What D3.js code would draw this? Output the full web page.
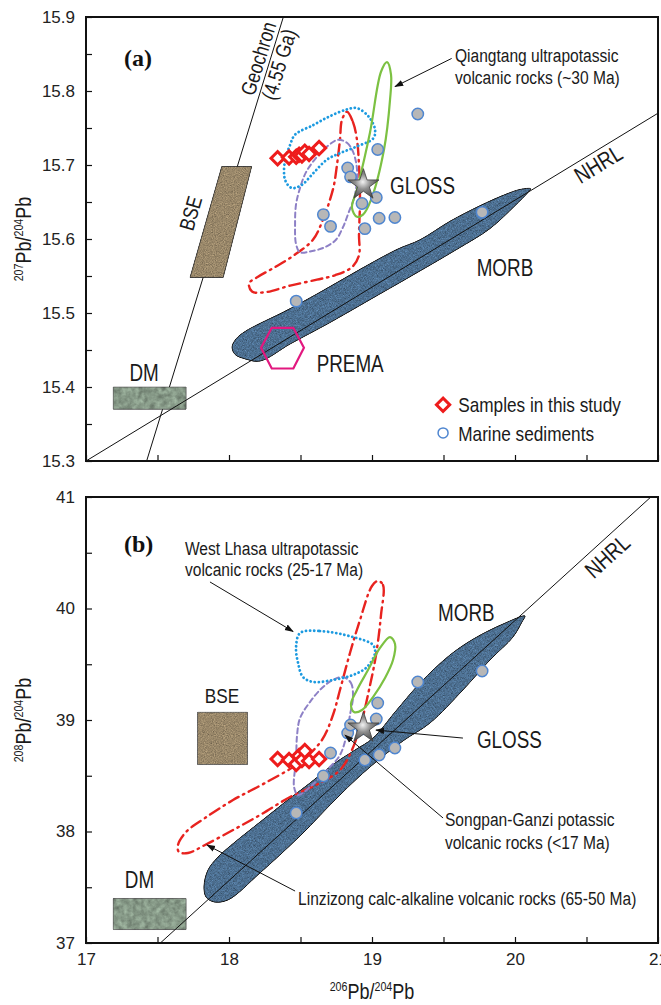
<!DOCTYPE html>
<html>
<head>
<meta charset="utf-8">
<script src="https://cdn.jsdelivr.net/npm/d3@7"></script>
<style>
  body { margin: 0; background: #fff; }
  svg { display: block; }
  .tick text { font-family: 'Liberation Sans', Arial, sans-serif; font-size: 17px; fill: #222; }
  .tick line { stroke: #111; stroke-width: 1.2; }
  .lbl { font-family: 'Liberation Sans', Arial, sans-serif; fill: #1a1a1a; }
</style>
</head>
<body>
<svg id="chart" width="661" height="1005"></svg>
<script>

// ---- axes ----
var x206Domain = [17, 21];
var x206Ticks = [17, 17.5, 18, 18.5, 19, 19.5, 20, 20.5, 21];
var x206Labels = [17, 18, 19, 20, 21];
var y207Domain = [15.3, 15.9];
var y207Ticks = [15.3, 15.35, 15.4, 15.45, 15.5, 15.55, 15.6, 15.65, 15.7, 15.75, 15.8, 15.85, 15.9];
var y207Labels = [15.3, 15.4, 15.5, 15.6, 15.7, 15.8, 15.9];
var y208Domain = [37, 41];
var y208Ticks = [37, 37.5, 38, 38.5, 39, 39.5, 40, 40.5, 41];
var y208Labels = [37, 38, 39, 40, 41];

// ---- points ----
var sample206 = [18.34, 18.42, 18.47, 18.49, 18.51, 18.53, 18.56, 18.63];
var sample207 = [15.709, 15.710, 15.711, 15.714, 15.713, 15.718, 15.715, 15.723];
var sample208 = [38.650, 38.641, 38.605, 38.677, 38.641, 38.722, 38.632, 38.650];

var marine206 = [19.32, 19.04, 18.83, 18.85, 19.03, 18.93, 19.05, 19.16, 18.95, 18.66, 18.71, 18.47, 19.77];
var marine207 = [15.769, 15.721, 15.696, 15.684, 15.656, 15.648, 15.628, 15.629, 15.614, 15.633, 15.617, 15.516, 15.636];
var marine208 = [39.341, 39.152, 38.883, 38.955, 39.009, 38.92, 38.686, 38.749, 38.641, 38.498, 38.704, 38.166, 39.439];

var gloss206 = [18.94];
var gloss207 = [15.673];
var gloss208 = [38.928];

// ---- reference lines ----
var geochronA = [[17.424, 15.3], [18.38, 15.9]];
var nhrlA = [[17, 15.30], [21, 15.77]];
var nhrlB = [[17.52, 37], [20.95, 41]];

// ---- fields, panel (a) 207/204 ----
var morbA = [[20.11,15.668],[20.035,15.667],[19.93,15.66],[19.755,15.645],[19.545,15.624],[19.336,15.599],
  [19.175,15.586],[18.916,15.559],[18.636,15.528],[18.378,15.501],[18.217,15.486],[18.112,15.475],
  [18.049,15.465],[18.021,15.454],[18.042,15.444],[18.112,15.438],[18.217,15.435],[18.427,15.458],
  [18.706,15.487],[18.986,15.518],[19.266,15.549],[19.594,15.586],[19.825,15.614],[20.0,15.645],[20.091,15.663]];
var qiangtangA = [[19.105,15.839],[19.133,15.822],[19.126,15.788],[19.084,15.721],[18.993,15.653],[18.937,15.633],
  [18.895,15.630],[18.860,15.642],[18.895,15.667],[18.986,15.744],[19.063,15.826]];
var westLhasaA = [[18.462,15.741],[18.590,15.754],[18.706,15.766],[18.823,15.775],[18.893,15.777],[18.974,15.766],
  [19.021,15.748],[19.009,15.736],[18.893,15.725],[18.776,15.716],[18.683,15.707],[18.590,15.689],
  [18.508,15.673],[18.438,15.669],[18.392,15.680],[18.392,15.707],[18.427,15.727]];
var songpanA = [[18.762,15.734],[18.825,15.730],[18.867,15.718],[18.895,15.694],[18.881,15.660],[18.839,15.637],
  [18.797,15.616],[18.748,15.599],[18.671,15.589],[18.566,15.583],[18.497,15.582],[18.469,15.593],
  [18.462,15.620],[18.469,15.647],[18.497,15.669],[18.538,15.690],[18.615,15.711],[18.692,15.726]];
var linzizongA = [[18.825,15.772],[18.867,15.758],[18.895,15.734],[18.909,15.700],[18.916,15.653],[18.909,15.606],
  [18.909,15.578],[18.860,15.562],[18.741,15.551],[18.615,15.545],[18.427,15.537],[18.252,15.528],
  [18.161,15.529],[18.140,15.540],[18.203,15.549],[18.322,15.562],[18.462,15.579],[18.587,15.599],
  [18.657,15.626],[18.706,15.653],[18.734,15.673],[18.755,15.700],[18.776,15.734],[18.790,15.761]];
var premaA = [[18.299,15.480],[18.450,15.480],[18.524,15.453],[18.450,15.425],[18.299,15.425],[18.224,15.453]];
var bseA = [[17.949,15.698],[18.159,15.698],[17.960,15.548],[17.727,15.548]];
var dmA = [[17.19,15.40],[17.70,15.40],[17.70,15.37],[17.19,15.37]];

// ---- fields, panel (b) 208/204 ----
var morbB = [[20.070,39.933],[19.916,39.861],[19.720,39.735],[19.545,39.583],[19.336,39.332],[19.161,39.072],
  [19.007,38.838],[18.881,38.731],[18.741,38.614],[18.566,38.435],[18.392,38.264],[18.217,38.085],
  [18.042,37.906],[17.923,37.771],[17.853,37.655],[17.825,37.511],[17.839,37.412],[17.895,37.368],
  [17.993,37.386],[18.217,37.628],[18.497,37.960],[18.776,38.327],[18.986,38.578],[19.217,38.812],
  [19.406,38.973],[19.636,39.269],[19.825,39.538],[19.986,39.744],[20.049,39.879]];
var qiangtangB = [[19.126,39.744],[19.161,39.682],[19.147,39.538],[19.091,39.377],[19.007,39.206],[18.930,39.090],
  [18.874,39.072],[18.853,39.143],[18.895,39.269],[18.972,39.448],[19.056,39.646]];
var westLhasaB = [[18.497,39.780],[18.636,39.798],[18.867,39.744],[19.007,39.673],[19.021,39.601],[18.965,39.475],
  [18.867,39.404],[18.727,39.359],[18.587,39.341],[18.517,39.386],[18.483,39.511],[18.469,39.655]];
var songpanB = [[18.797,39.386],[18.853,39.332],[18.867,39.206],[18.846,39.045],[18.825,38.883],[18.776,38.686],
  [18.685,38.551],[18.566,38.399],[18.483,38.327],[18.455,38.399],[18.469,38.641],[18.476,38.865],
  [18.497,39.018],[18.566,39.161],[18.650,39.287],[18.727,39.359]];
var linzizongB = [[19.042,40.247],[19.077,40.211],[19.063,39.942],[19.028,39.583],[18.979,39.269],[18.930,39.000],
  [18.860,38.731],[18.776,38.551],[18.636,38.435],[18.427,38.309],[18.217,38.148],[18.028,38.013],
  [17.832,37.879],[17.713,37.807],[17.650,37.816],[17.643,37.879],[17.699,37.995],[17.832,38.121],
  [18.028,38.282],[18.252,38.435],[18.497,38.623],[18.650,38.821],[18.727,39.045],[18.776,39.269],
  [18.846,39.601],[18.916,39.897],[19.000,40.202]];
var bseB = [[17.78,39.07],[18.13,39.07],[18.13,38.60],[17.78,38.60]];
var dmB = [[17.19,37.40],[17.70,37.40],[17.70,37.12],[17.19,37.12]];

// ---- annotation arrows ----
var arrowsA = [[[19.557,15.844],[19.161,15.806]]];
var arrowsB = [[[17.867,40.238],[18.448,39.794]], [[19.636,38.838],[19.028,38.910]],
  [[19.497,38.121],[18.811,38.865]], [[18.462,37.466],[17.846,37.879]]];

var NARROW = 0.82;   // the figure's text is a condensed face

var svg = d3.select('#chart');
var defs = svg.append('defs');

var x = d3.scaleLinear().domain(x206Domain).range([86, 658]);
var yA = d3.scaleLinear().domain(y207Domain).range([461, 17]);
var yB = d3.scaleLinear().domain(y208Domain).range([943, 497]);

// grainy textures for the filled fields
function grain(id, freq, oct, seed, k1, k2) {
  var f = defs.append('filter').attr('id', id).attr('color-interpolation-filters', 'sRGB');
  f.append('feTurbulence').attr('type', 'fractalNoise').attr('baseFrequency', freq)
    .attr('numOctaves', oct).attr('seed', seed).attr('result', 't');
  f.append('feColorMatrix').attr('in', 't').attr('type', 'matrix')
    .attr('values', '0.33 0.33 0.33 0 0  0.33 0.33 0.33 0 0  0.33 0.33 0.33 0 0  0 0 0 0 1')
    .attr('result', 'g');
  f.append('feComposite').attr('in', 'SourceGraphic').attr('in2', 'g').attr('operator', 'arithmetic')
    .attr('k1', k1).attr('k2', k2).attr('k3', 0).attr('k4', 0).attr('result', 'c');
  f.append('feComposite').attr('in', 'c').attr('in2', 'SourceAlpha').attr('operator', 'in');
}
grain('grainMorb', 1.6, 1, 4, 1.5, 0.25);
grain('grainBse', 0.9, 2, 7, 1.2, 0.4);
grain('grainDm', 0.18, 3, 11, 1.0, 0.5);

var sg = defs.append('radialGradient').attr('id', 'starGrad').attr('cx', '48%').attr('cy', '45%').attr('r', '55%');
sg.append('stop').attr('offset', '0%').attr('stop-color', '#f2f2f2');
sg.append('stop').attr('offset', '45%').attr('stop-color', '#8e8e8e');
sg.append('stop').attr('offset', '100%').attr('stop-color', '#4e4e4e');

defs.append('marker').attr('id', 'arrow').attr('viewBox', '0 0 10 10')
  .attr('refX', 9).attr('refY', 5).attr('markerWidth', 9).attr('markerHeight', 9)
  .attr('markerUnits', 'userSpaceOnUse').attr('orient', 'auto')
  .append('path').attr('d', 'M0,1.5 L10,5 L0,8.5 z').attr('fill', '#111');

function isIn(list, v) {
  return list.some(function (l) { return Math.abs(l - v) < 1e-6; });
}

function drawPanel(y, yTicks, yLabels, yFmt, showX, clipId) {
  var g = svg.append('g');
  var x0 = x.range()[0], x1 = x.range()[1], yt = y.range()[1], yb = y.range()[0];

  defs.append('clipPath').attr('id', clipId)
    .append('rect').attr('x', x0).attr('y', yt).attr('width', x1 - x0).attr('height', yb - yt);

  var yAxis = d3.axisLeft(y).tickValues(yTicks).tickSize(-6).tickPadding(11)
    .tickFormat(function (d) { return isIn(yLabels, d) ? d3.format(yFmt)(d) : ''; });
  g.append('g').attr('transform', 'translate(' + x0 + ',0)').call(yAxis)
    .call(function (s) { s.select('.domain').remove(); });

  var xAxis = d3.axisBottom(x).tickValues(x206Ticks).tickSize(-6).tickPadding(10)
    .tickFormat(function (d) { return showX && isIn(x206Labels, d) ? d3.format('d')(d) : ''; });
  g.append('g').attr('transform', 'translate(0,' + yb + ')').call(xAxis)
    .call(function (s) { s.select('.domain').remove(); });

  var plot = g.append('g').attr('clip-path', 'url(#' + clipId + ')');
  g.append('rect').attr('x', x0).attr('y', yt).attr('width', x1 - x0).attr('height', yb - yt)
    .attr('fill', 'none').attr('stroke', '#111').attr('stroke-width', 2);
  return { g: g, plot: plot };
}

function makeLine(y, curve) {
  var l = d3.line().x(function (d) { return x(d[0]); }).y(function (d) { return y(d[1]); });
  return curve ? l.curve(curve) : l;
}

function field(plot, y, pts, stroke, dash, width) {
  plot.append('path').datum(pts)
    .attr('d', makeLine(y, d3.curveCatmullRomClosed.alpha(0.5)))
    .attr('fill', 'none').attr('stroke', stroke).attr('stroke-width', width)
    .attr('stroke-dasharray', dash).attr('stroke-linecap', 'round');
}

function label(g, txt, px, py, size, anchor, rot) {
  return g.append('text').attr('class', 'lbl').attr('font-size', size)
    .attr('text-anchor', anchor || 'start')
    .attr('transform', 'translate(' + px + ',' + py + ') rotate(' + (rot || 0) + ') scale(' + NARROW + ',1)')
    .text(txt);
}

function angle(y, seg) {
  return Math.atan2(y(seg[1][1]) - y(seg[0][1]), x(seg[1][0]) - x(seg[0][0])) * 180 / Math.PI;
}

function axisTitle(t, sup1, sup2) {
  t.append('tspan').attr('font-size', 13).attr('dy', -8).text(sup1);
  t.append('tspan').attr('font-size', 22).attr('dy', 8).text('Pb/');
  t.append('tspan').attr('font-size', 13).attr('dy', -8).text(sup2);
  t.append('tspan').attr('font-size', 22).attr('dy', 8).text('Pb');
}

function points(plot, y, xs, ys, gs, gy) {
  // marine sediments
  plot.selectAll(null).data(xs.map(function (v, i) { return [v, ys[i]]; })).enter()
    .append('circle').attr('cx', function (d) { return x(d[0]); }).attr('cy', function (d) { return y(d[1]); })
    .attr('r', 5.7).attr('fill', '#b7b7b7').attr('stroke', '#4f86d0').attr('stroke-width', 1.5);
  // GLOSS star
  plot.selectAll(null).data(gs.map(function (v, i) { return [v, gy[i]]; })).enter()
    .append('path').attr('d', d3.symbol(d3.symbolStar, 300))
    .attr('transform', function (d) { return 'translate(' + x(d[0]) + ',' + y(d[1]) + ')'; })
    .attr('fill', 'url(#starGrad)').attr('stroke', '#3e3e3e').attr('stroke-width', 0.8);
}

function samples(plot, y, ys) {
  plot.selectAll(null).data(sample206.map(function (v, i) { return [v, ys[i]]; })).enter()
    .append('path').attr('d', d3.symbol(d3.symbolSquare, 88))
    .attr('transform', function (d) { return 'translate(' + x(d[0]) + ',' + y(d[1]) + ') rotate(45)'; })
    .attr('fill', '#fff').attr('stroke', '#ee1c1c').attr('stroke-width', 3);
}

// ================= panel (a) =================
var pa = drawPanel(yA, y207Ticks, y207Labels, '.1f', false, 'clipA');
var lineA = makeLine(yA);

pa.plot.append('path').datum(geochronA).attr('d', lineA).attr('stroke', '#111').attr('stroke-width', 1).attr('fill', 'none');
pa.plot.append('path').datum(bseA).attr('d', makeLine(yA, d3.curveLinearClosed))
  .attr('fill', '#9a886a').attr('stroke', '#222').attr('stroke-width', 0.8).attr('filter', 'url(#grainBse)');
pa.plot.append('path').datum(dmA).attr('d', makeLine(yA, d3.curveLinearClosed))
  .attr('fill', '#879a88').attr('stroke', '#555').attr('stroke-width', 0.8).attr('filter', 'url(#grainDm)');
pa.plot.append('path').datum(morbA).attr('d', makeLine(yA, d3.curveCatmullRomClosed.alpha(0.5)))
  .attr('fill', '#4d7092').attr('stroke', '#111').attr('stroke-width', 1).attr('filter', 'url(#grainMorb)');
pa.plot.append('path').datum(nhrlA).attr('d', lineA).attr('stroke', '#111').attr('stroke-width', 1).attr('fill', 'none');
pa.plot.append('path').datum(premaA).attr('d', makeLine(yA, d3.curveLinearClosed))
  .attr('fill', 'none').attr('stroke', '#e2187f').attr('stroke-width', 2.2);

field(pa.plot, yA, linzizongA, '#e8231f', '11 5 1.5 5', 2.4);
field(pa.plot, yA, songpanA, '#8d80c6', '5 3.5', 2);
field(pa.plot, yA, westLhasaA, '#1c9ae0', '0.1 4', 2.8);
field(pa.plot, yA, qiangtangA, '#7cc142', null, 2.2);

samples(pa.plot, yA, sample207);
points(pa.plot, yA, marine206, marine207, gloss206, gloss207);

arrowsA.forEach(function (a) {
  pa.g.append('path').datum(a).attr('d', lineA).attr('stroke', '#111').attr('stroke-width', 1)
    .attr('fill', 'none').attr('marker-end', 'url(#arrow)');
});

pa.g.append('text').attr('x', x(17.266)).attr('y', yA(15.834))
  .attr('font-family', "'Liberation Serif','Times New Roman',serif").attr('font-weight', 'bold')
  .attr('font-size', 24).attr('fill', '#111').text('(a)');

var geoAng = angle(yA, geochronA);
label(pa.g, 'Geochron', x(18.255), yA(15.841), 21, 'middle', geoAng);
label(pa.g, '(4.55 Ga)', x(18.399), yA(15.833), 21, 'middle', geoAng);
label(pa.g, 'BSE', x(17.781), yA(15.632), 21, 'middle', geoAng - 1);
label(pa.g, 'DM', x(17.406), yA(15.408), 23, 'middle');
label(pa.g, 'PREMA', x(18.613), yA(15.420), 23);
label(pa.g, 'MORB', x(19.732), yA(15.550), 23);
label(pa.g, 'GLOSS', x(19.126), yA(15.661), 23);
label(pa.g, 'NHRL', x(20.612), yA(15.692), 23, 'middle', angle(yA, nhrlA));
label(pa.g, 'Qiangtang ultrapotassic', x(19.58), yA(15.839), 19);
label(pa.g, 'volcanic rocks (~30 Ma)', x(19.58), yA(15.810), 19);

// legend
pa.g.append('path').attr('d', d3.symbol(d3.symbolSquare, 88))
  .attr('transform', 'translate(' + x(19.497) + ',' + yA(15.376) + ') rotate(45)')
  .attr('fill', '#fff').attr('stroke', '#ee1c1c').attr('stroke-width', 3);
label(pa.g, 'Samples in this study', x(19.603), yA(15.366), 21);
pa.g.append('circle').attr('cx', x(19.497)).attr('cy', yA(15.338)).attr('r', 5)
  .attr('fill', '#fff').attr('stroke', '#4f86d0').attr('stroke-width', 1.5);
label(pa.g, 'Marine sediments', x(19.603), yA(15.327), 21);

var ta = pa.g.append('text').attr('class', 'lbl').attr('text-anchor', 'middle')
  .attr('transform', 'translate(31,' + d3.mean(yA.range()) + ') rotate(-90) scale(' + NARROW + ',1)');
axisTitle(ta, '207', '204');

// ================= panel (b) =================
var pb = drawPanel(yB, y208Ticks, y208Labels, 'd', true, 'clipB');
var lineB = makeLine(yB);

pb.plot.append('path').datum(bseB).attr('d', makeLine(yB, d3.curveLinearClosed))
  .attr('fill', '#9a886a').attr('stroke', '#555').attr('stroke-width', 0.8).attr('filter', 'url(#grainBse)');
pb.plot.append('path').datum(dmB).attr('d', makeLine(yB, d3.curveLinearClosed))
  .attr('fill', '#879a88').attr('stroke', '#555').attr('stroke-width', 0.8).attr('filter', 'url(#grainDm)');
pb.plot.append('path').datum(morbB).attr('d', makeLine(yB, d3.curveCatmullRomClosed.alpha(0.5)))
  .attr('fill', '#4d7092').attr('stroke', '#111').attr('stroke-width', 1).attr('filter', 'url(#grainMorb)');
pb.plot.append('path').datum(nhrlB).attr('d', lineB).attr('stroke', '#111').attr('stroke-width', 1).attr('fill', 'none');

field(pb.plot, yB, linzizongB, '#e8231f', '11 5 1.5 5', 2.4);
field(pb.plot, yB, songpanB, '#8d80c6', '5 3.5', 2);
field(pb.plot, yB, westLhasaB, '#1c9ae0', '0.1 4', 2.8);
field(pb.plot, yB, qiangtangB, '#7cc142', null, 2.2);

samples(pb.plot, yB, sample208);
points(pb.plot, yB, marine206, marine208, gloss206, gloss208);

arrowsB.forEach(function (a) {
  pb.g.append('path').datum(a).attr('d', lineB).attr('stroke', '#111').attr('stroke-width', 1)
    .attr('fill', 'none').attr('marker-end', 'url(#arrow)');
});

pb.g.append('text').attr('x', x(17.266)).attr('y', yB(40.507))
  .attr('font-family', "'Liberation Serif','Times New Roman',serif").attr('font-weight', 'bold')
  .attr('font-size', 24).attr('fill', '#111').text('(b)');

label(pb.g, 'West Lhasa ultrapotassic', x(17.692), yB(40.480), 19);
label(pb.g, 'volcanic rocks (25-17 Ma)', x(17.692), yB(40.291), 19);
label(pb.g, 'NHRL', x(20.683), yB(40.415), 23, 'middle', angle(yB, nhrlB));
label(pb.g, 'MORB', x(19.462), yB(39.888), 23);
label(pb.g, 'BSE', x(17.951), yB(39.152), 21, 'middle');
label(pb.g, 'GLOSS', x(19.734), yB(38.749), 23);
label(pb.g, 'Songpan-Ganzi potassic', x(19.510), yB(38.049), 19);
label(pb.g, 'volcanic rocks (<17 Ma)', x(19.510), yB(37.843), 19);
label(pb.g, 'Linzizong calc-alkaline volcanic rocks (65-50 Ma)', x(18.483), yB(37.341), 19);
label(pb.g, 'DM', x(17.374), yB(37.493), 23, 'middle');

var tb = pb.g.append('text').attr('class', 'lbl').attr('text-anchor', 'middle')
  .attr('transform', 'translate(31,' + d3.mean(yB.range()) + ') rotate(-90) scale(' + NARROW + ',1)');
axisTitle(tb, '208', '204');

var tx = svg.append('text').attr('class', 'lbl').attr('text-anchor', 'middle')
  .attr('transform', 'translate(' + d3.mean(x.range()) + ',999) scale(' + NARROW + ',1)');
axisTitle(tx, '206', '204');

</script>
</body>
</html>
